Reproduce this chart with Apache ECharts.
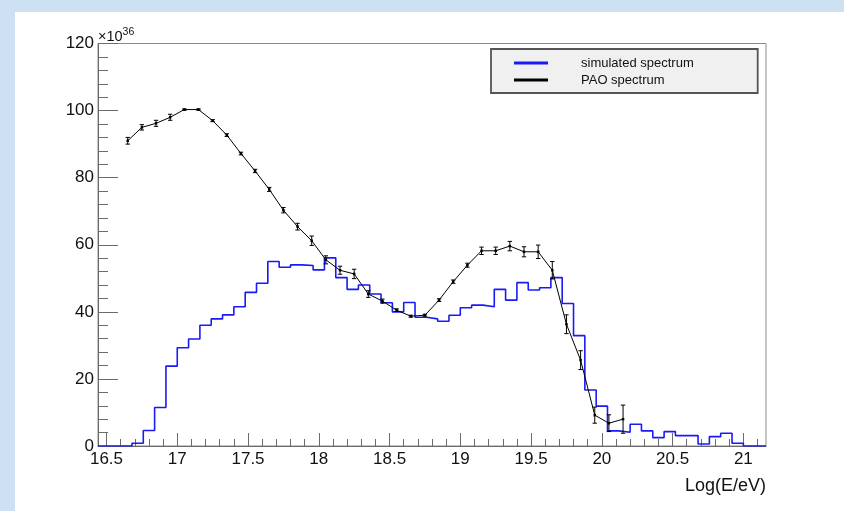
<!DOCTYPE html>
<html>
<head>
<meta charset="utf-8">
<script src="https://cdn.jsdelivr.net/npm/echarts@6/dist/echarts.min.js"></script>
<style>
  html, body { margin: 0; padding: 0; background: #cee1f2; }
  #chart { width: 844px; height: 511px; }
</style>
</head>
<body>
<div id="chart"></div>
<script>
// ---- data ----
const binStart = 16.44;
const binWidth = 0.08;
const simCounts = [
  0, 0, 0, 0.8, 4.6, 11.5, 23.8, 29.3, 31.9, 36.0,
  37.9, 39.1, 41.5, 45.8, 48.5, 55.0, 53.3, 54.0, 53.8, 52.5,
  56.1, 50.2, 46.7, 48.0, 45.3, 42.7, 40.0, 42.8, 38.4, 37.9,
  37.2, 39.0, 41.2, 42.0, 41.5, 46.7, 43.5, 48.7, 46.5, 47.2,
  50.2, 42.5, 32.9, 16.7, 11.9, 4.5, 4.1, 6.5, 4.5, 2.5,
  4.3, 3.1, 3.1, 0.6, 2.8, 3.8, 0.8, 0, 0
];
const paoX = [
  16.65, 16.75, 16.85, 16.95, 17.05, 17.15, 17.25, 17.35, 17.45, 17.55,
  17.65, 17.75, 17.85, 17.95, 18.05, 18.15, 18.25, 18.35, 18.45, 18.55,
  18.65, 18.75, 18.85, 18.95, 19.05, 19.15, 19.25, 19.35, 19.45, 19.55,
  19.65, 19.75, 19.85, 19.95, 20.05, 20.15
];
const paoY = [
  91.0, 95.0, 96.2, 98.0, 100.3, 100.3, 97.0, 92.7, 87.2, 82.0,
  76.5, 70.3, 65.4, 61.2, 55.5, 52.4, 51.3, 45.3, 43.2, 40.5,
  38.7, 39.0, 43.5, 49.0, 53.9, 58.2, 58.2, 59.6, 57.9, 57.9,
  52.4, 36.3, 25.6, 9.2, 6.8, 8.0
];
const paoErr = [
  1.0, 0.8, 0.9, 0.9, 0.2, 0.2, 0.3, 0.4, 0.4, 0.5,
  0.6, 0.8, 1.0, 1.4, 1.2, 1.2, 1.4, 1.0, 0.6, 0.4,
  0.3, 0.3, 0.4, 0.5, 0.6, 1.1, 1.1, 1.4, 1.5, 2.0,
  2.6, 2.8, 2.8, 2.4, 2.5, 4.2
];
const xMajorTicks = [16.5, 17, 17.5, 18, 18.5, 19, 19.5, 20, 20.5, 21];
const xMinorTicks = [
  16.6, 16.7, 16.8, 16.9, 17.1, 17.2, 17.3, 17.4, 17.6, 17.7, 17.8, 17.9,
  18.1, 18.2, 18.3, 18.4, 18.6, 18.7, 18.8, 18.9, 19.1, 19.2, 19.3, 19.4,
  19.6, 19.7, 19.8, 19.9, 20.1, 20.2, 20.3, 20.4, 20.6, 20.7, 20.8, 20.9, 21.1
];
const xRange = [16.44, 21.16];
const yRange = [0, 120];
const yStep = 20;
const seriesNames = ['simulated spectrum', 'PAO spectrum'];
const xTitle = 'Log(E/eV)';
const yExponent = '36';

// ---- build ----
const histData = simCounts.map((v, i) => [+(binStart + i * binWidth).toFixed(2), v]);
histData.push([+(binStart + simCounts.length * binWidth).toFixed(2), simCounts[simCounts.length - 1]]);
const paoData = paoX.map((x, i) => [x, paoY[i]]);
const errData = paoX.map((x, i) => [x, paoY[i], paoErr[i]]);

const FONT = '"Liberation Sans", Arial, Helvetica, sans-serif';
const AX = '#6a6a6a';

const chart = echarts.init(document.getElementById('chart'), null, { renderer: 'canvas' });
chart.setOption({
  backgroundColor: '#cee1f2',
  animation: false,
  graphic: [{
    type: 'rect', z: -10, silent: true,
    shape: { x: 15, y: 12, width: 829, height: 499 },
    style: { fill: '#ffffff' }
  }, {
    type: 'text', z: 10, silent: true,
    x: 98, y: 44,
    style: {
      text: '{a|×10}{b|' + yExponent + '}',
      verticalAlign: 'bottom', align: 'left',
      rich: {
        a: { fontFamily: FONT, fontSize: 14.5, fill: '#111', lineHeight: 17, verticalAlign: 'bottom' },
        b: { fontFamily: FONT, fontSize: 10.5, fill: '#111', lineHeight: 17, verticalAlign: 'top' }
      }
    }
  }],
  grid: {
    left: 98, right: 78, top: 43.5, bottom: 65,
    show: true, borderColor: '#8a8a8a', borderWidth: 1, backgroundColor: 'transparent'
  },
  legend: {
    orient: 'vertical',
    left: 491, top: 49,
    itemWidth: 34, itemHeight: 3, itemGap: 1,
    padding: [6, 64, 5, 23],
    backgroundColor: '#f0f0f0',
    borderColor: '#555', borderWidth: 1.8,
    textStyle: { fontFamily: FONT, fontSize: 13, color: '#111', lineHeight: 16, padding: [0, 0, 0, 28] },
    data: [
      { name: seriesNames[0], icon: 'rect', itemStyle: { color: '#1a1af5' } },
      { name: seriesNames[1], icon: 'rect', itemStyle: { color: '#000' } }
    ]
  },
  xAxis: [{
    type: 'value', min: xRange[0], max: xRange[1],
    name: xTitle, nameLocation: 'end', nameGap: 0,
    nameTextStyle: { fontFamily: FONT, fontSize: 18, color: '#111', align: 'right', verticalAlign: 'top', padding: [31, 0, 0, 0] },
    axisLine: { show: true, onZero: false, lineStyle: { color: AX, width: 1 } },
    axisTick: { show: true, inside: true, length: 13, customValues: xMajorTicks, lineStyle: { color: AX } },
    axisLabel: { show: true, customValues: xMajorTicks, fontFamily: FONT, fontSize: 17, color: '#111', margin: 5 },
    splitLine: { show: false }
  }, {
    type: 'value', min: xRange[0], max: xRange[1], position: 'bottom',
    axisLine: { show: false },
    axisTick: { show: true, inside: true, length: 7, customValues: xMinorTicks, lineStyle: { color: AX } },
    axisLabel: { show: false },
    splitLine: { show: false }
  }],
  yAxis: {
    type: 'value', min: yRange[0], max: yRange[1], interval: yStep,
    axisLine: { show: true, lineStyle: { color: AX, width: 1 } },
    axisTick: { show: true, inside: true, length: 20, lineStyle: { color: AX } },
    minorTick: { show: true, splitNumber: 5, length: 10, lineStyle: { color: AX } },
    axisLabel: { fontFamily: FONT, fontSize: 17, color: '#111', margin: 4 },
    splitLine: { show: false }
  },
  series: [{
    name: seriesNames[0],
    type: 'line', step: 'end', xAxisIndex: 0,
    data: histData, showSymbol: false, symbol: 'none',
    lineStyle: { color: '#1a1af5', width: 1.6 },
    itemStyle: { color: '#1a1af5' },
    z: 2
  }, {
    name: seriesNames[1],
    type: 'line', xAxisIndex: 0,
    data: paoData, symbol: 'rect', symbolSize: 2.5, showSymbol: true,
    lineStyle: { color: '#000', width: 1 },
    itemStyle: { color: '#000' },
    z: 3
  }, {
    name: 'errors',
    type: 'custom', xAxisIndex: 0,
    data: errData,
    encode: { x: 0, y: [1] },
    z: 4,
    renderItem: function (params, api) {
      const x = api.value(0), y = api.value(1), e = api.value(2);
      const top = api.coord([x, y + e]);
      const bot = api.coord([x, y - e]);
      const cap = 2.2;
      const st = { stroke: '#000', lineWidth: 1 };
      return {
        type: 'group',
        children: [
          { type: 'line', shape: { x1: top[0], y1: top[1], x2: bot[0], y2: bot[1] }, style: st },
          { type: 'line', shape: { x1: top[0] - cap, y1: top[1], x2: top[0] + cap, y2: top[1] }, style: st },
          { type: 'line', shape: { x1: bot[0] - cap, y1: bot[1], x2: bot[0] + cap, y2: bot[1] }, style: st }
        ]
      };
    }
  }]
});
</script>
</body>
</html>
